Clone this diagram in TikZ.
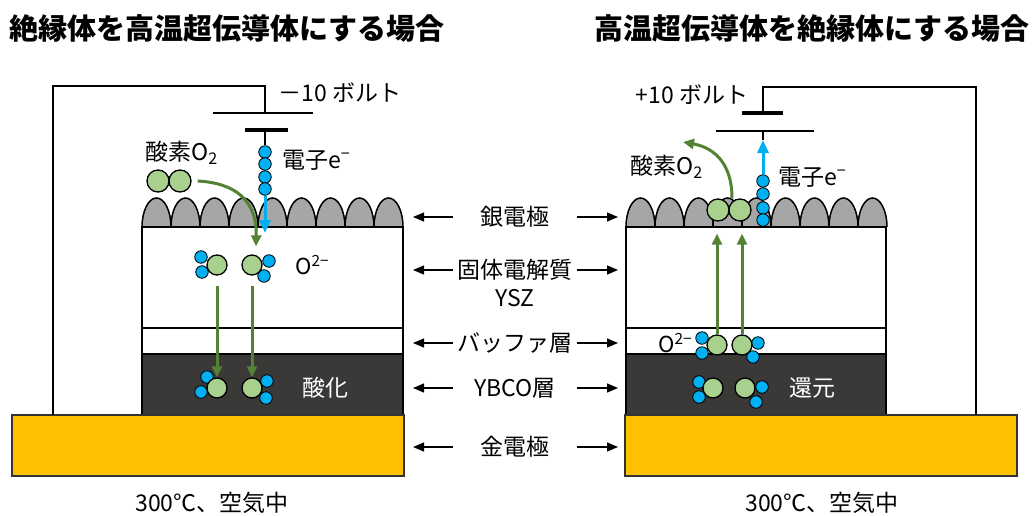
\documentclass[tikz,border=0pt]{standalone}
\usepackage{fontspec}
\setmainfont{Noto Sans CJK JP}
\usetikzlibrary{arrows.meta,calc}
\definecolor{gold}{HTML}{FFC000}
\definecolor{ybcodark}{HTML}{3B3838}
\definecolor{silver}{HTML}{A6A6A6}
\definecolor{oxfill}{HTML}{A9D18E}
\definecolor{eblue}{HTML}{00B0F0}
\definecolor{garr}{HTML}{548235}

\begin{document}
\begin{tikzpicture}[x=1pt,y=-1pt]
  \tikzstyle{txt}=[inner sep=0pt, font=\fontsize{23}{27}\selectfont]
  \tikzstyle{ttl}=[inner sep=0pt, font=\fontsize{29}{32}\selectfont\bfseries]
  \tikzstyle{oxy}=[circle, draw, line width=1.3pt, fill=oxfill, inner sep=0pt, minimum size=20pt]
  \tikzstyle{mol}=[oxy, minimum size=22pt]
  \tikzstyle{elec}=[circle, draw, line width=0.8pt, fill=eblue, inner sep=0pt, minimum size=12.5pt]
  \tikzstyle{wire}=[line width=1.5pt]
  \tikzstyle{lay}=[draw, line width=1.5pt]
  \tikzstyle{garrow}=[draw=garr, line width=3pt, -{Triangle[length=11pt,width=10pt]}]
  \tikzstyle{barrow}=[draw=eblue, line width=3pt, -{Triangle[length=13pt,width=11pt]}]
  \tikzstyle{larrow}=[line width=1.3pt, -{Triangle[length=11pt,width=9pt]}]

  \useasboundingbox (0,0) rectangle (1035,516);

  % titles
  \node[ttl] (titleL) at (227,28) {絶縁体を高温超伝導体にする場合};
  \node[ttl] (titleR) at (812,28) {高温超伝導体を絶縁体にする場合};

  % left cell: silver bumps, YSZ, buffer, YBCO, gold
  \foreach \i in {0,...,8}
    \draw[lay, fill=silver] (142+29*\i,227) arc[start angle=180, end angle=0, x radius=14.5pt, y radius=29pt];
  \draw[lay, fill=white] (142,227) rectangle (403,328);
  \draw[lay, fill=white] (142,328) rectangle (403,354);
  \draw[lay, fill=ybcodark] (142,354) rectangle (403,415);
  \draw[lay, draw=black!80, fill=gold] (12,415) rectangle (404,476);

  % right cell
  \foreach \i in {0,...,8}
    \draw[lay, fill=silver] (626+29*\i,227) arc[start angle=180, end angle=0, x radius=14.5pt, y radius=29pt];
  \draw[lay, fill=white] (626,227) rectangle (886,328);
  \draw[lay, fill=white] (626,328) rectangle (886,354);
  \draw[lay, fill=ybcodark] (626,354) rectangle (886,415);
  \draw[lay, draw=black!80, fill=gold] (625,415) rectangle (1017,476);

  % left circuit and battery
  \draw[wire] (53,415) |- (265,86) -- (265,113);
  \draw[wire] (213,113) -- (313,113);
  \draw[line width=4pt] (245,130) -- (288,130);
  \node[txt] (voltL) at (340,93) {－10 ボルト};

  % right circuit and battery
  \draw[wire] (976,415) |- (763,87) -- (763,113);
  \draw[line width=4pt] (742,113) -- (783,113);
  \draw[wire] (716,131) -- (814,131);
  \node[txt] (voltR) at (692,95) {+10 ボルト};

  % left: O2 in, electrons in
  \node[mol] (oL1) at (158,181) {};
  \node[mol] (oL2) at (180,181) {};
  \node[txt, anchor=west] (o2L) at (145,153) {酸素O\textsubscript{2}};
  \foreach \i/\y in {1/152,2/164,3/177,4/189}
    \node[elec] (eL\i) at (265,\y) {};
  \draw[wire] (265,130) -- (eL1);
  \coordinate (eLtip) at (265,233);
  \draw[barrow] (eL4) -- (eLtip);
  \node[txt, anchor=west] (elL) at (282,160) {電子e\textsuperscript{−}};

  % left: ions in YSZ
  \foreach \n/\x/\y in {1/201/257,2/202/272,3/269/261,4/264/276}
    \node[elec] (bL\n) at (\x,\y) {};
  \node[oxy] (iL1) at (217,265) {};
  \node[oxy] (iL2) at (252,265) {};
  \node[txt, anchor=west, font=\fontsize{22}{26}\selectfont] (ionL) at (295,265) {O\textsuperscript{2−}};
  \draw[garrow] (oL2.east) ++(6,0) .. controls (235,183) and (257,200) .. ($(iL2.north)+(4,-8)$);

  % left: ions in YBCO
  \foreach \n/\x/\y in {1/207/377,2/201/392,3/267/381,4/266/398}
    \node[elec] (cL\n) at (\x,\y) {};
  \node[oxy] (jL1) at (217,388) {};
  \node[oxy] (jL2) at (252,388) {};
  \draw[garrow, shorten <=10pt] (iL1.south) -- (iL1 |- jL1.north);
  \draw[garrow, shorten <=10pt] (iL2.south) -- (iL2 |- jL2.north);
  \node[txt, text=white] (oxid) at (325,388) {酸化};

  % right: O2 out, electrons out
  \node[mol] (mR1) at (718,210) {};
  \node[mol] (mR2) at (740,210) {};
  \draw[garrow] ([xshift=-8pt]mR2.north) .. controls (732,155) and (705,146) .. (683,142);
  \node[txt, anchor=west] (o2R) at (630,167) {酸素O\textsubscript{2}};
  \foreach \i/\y in {1/181,2/194,3/208,4/220}
    \node[elec] (eR\i) at (763,\y) {};
  \coordinate (eRtip) at (763,140);
  \draw[wire] (763,131) -- (eRtip);
  \draw[barrow] (eR1) -- (eRtip);
  \node[txt, anchor=west] (elR) at (778,177) {電子e\textsuperscript{−}};

  % right: ions in buffer
  \foreach \n/\x/\y in {1/702/338,2/702/353,3/758/343,4/753/357}
    \node[elec] (bR\n) at (\x,\y) {};
  \node[oxy] (kR1) at (717,345) {};
  \node[oxy] (kR2) at (742,345) {};
  \node[txt, anchor=west, font=\fontsize{22}{26}\selectfont] (ionR) at (658,343) {O\textsuperscript{2−}};
  \draw[garrow, shorten >=12pt] (kR1.north) -- (kR1 |- mR1.south);
  \draw[garrow, shorten >=12pt] (kR2.north) -- (kR2 |- mR2.south);

  % right: ions in YBCO
  \foreach \n/\x/\y in {1/699/382,2/699/397,3/762/387,4/756/402}
    \node[elec] (cR\n) at (\x,\y) {};
  \node[oxy] (nR1) at (713,388) {};
  \node[oxy] (nR2) at (745,388) {};
  \node[txt, text=white] (redu) at (812,388) {還元};

  % layer names in the middle
  \foreach \n/\y/\t in {ag/217/銀電極, ysz/270/固体電解質, buf/343/バッファ層, yb/388/YBCO層, au/447/金電極} {
    \node[txt] (\n) at (515,\y) {\t};
    \coordinate (\n l0) at (453,\y);
    \coordinate (\n l1) at (413,\y);
    \coordinate (\n r0) at (577,\y);
    \coordinate (\n r1) at (618,\y);
    \draw[larrow] (\n l0) -- (\n l1);
    \draw[larrow] (\n r0) -- (\n r1);
  }
  \node[txt] (yszb) at (515,298) {YSZ};

  % conditions
  \node[txt] (condL) at (212,503) {300℃、空気中};
  \node[txt] (condR) at (822,503) {300℃、空気中};
\end{tikzpicture}
\end{document}
